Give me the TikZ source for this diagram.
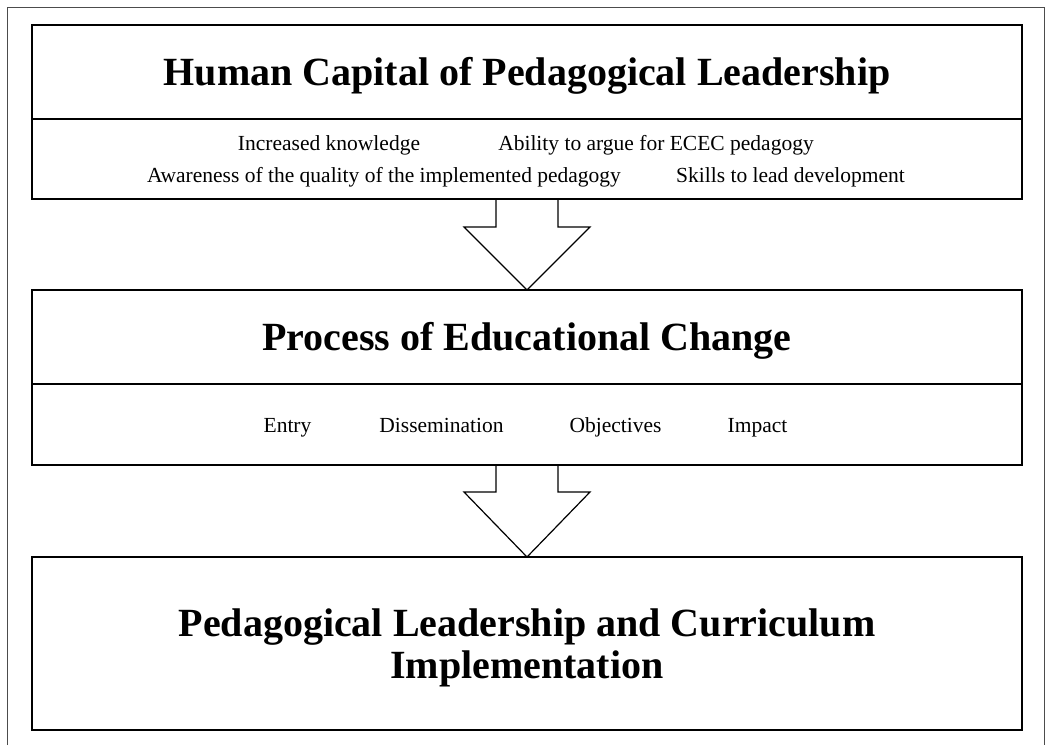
\documentclass[tikz,border=0pt]{standalone}
\usepackage{fontspec}
\setmainfont{Liberation Serif}
\usetikzlibrary{positioning, calc}
\tikzset{
    head/.style={rectangle, draw, line width=1.2pt, outer sep=0pt, minimum width=990pt, align=center,
        font=\fontsize{40}{42}\selectfont\bfseries},
    band/.style={rectangle, draw, line width=1.2pt, outer sep=0pt, minimum width=990pt},
    item/.style={font=\fontsize{21.5}{26}\selectfont, inner sep=0pt, anchor=base},
    bigarrow/.style={line width=1.2pt, line join=miter},
    frame/.style={draw=black!70, line width=0.9pt}
}

\begin{document}
\begin{tikzpicture}[x=1pt, y=-1pt]

    \useasboundingbox (0,0) rectangle (1045,745);
    \draw [frame] (7,745) -- (7,7) -- (1044,7) -- (1044,745);

    % Boxes
    \node (hc) [head, minimum height=94pt, text height=26pt, text depth=0pt] at (527,72) {Human Capital of Pedagogical Leadership};
    \node (hcitems) [band, minimum height=80pt, below=0pt of hc] {};
    \node (pec) [head, minimum height=94pt, text height=26pt, text depth=0pt] at (527,337) {Process of Educational Change};
    \node (pecitems) [band, minimum height=81pt, below=0pt of pec] {};
    \node (impl) [head, minimum height=173pt, text height=26pt, text depth=41pt] at (527,643.5) {\begin{tabular}[t]{@{}c@{}}Pedagogical Leadership and Curriculum\\Implementation\end{tabular}};

    % Items
    \node (i1) [item] at (329,150) {Increased knowledge};
    \node (i2) [item] at (656,150) {Ability to argue for ECEC pedagogy};
    \node (i3) [item] at (384,182) {Awareness of the quality of the implemented pedagogy};
    \node (i4) [item] at (790.5,182) {Skills to lead development};

    \node (e1) [item] at (287.5,432) {Entry};
    \node (e2) [item] at (441.5,432) {Dissemination};
    \node (e3) [item] at (615.5,432) {Objectives};
    \node (e4) [item] at (757.5,432) {Impact};

    % Arrows
    \draw [bigarrow] (hcitems.south) ++(-31,0) -- ++(0,28) -- ++(-32,0) -- (pec.north) -- ++(63,-63) -- ++(-32,0) -- ++(0,-28);
    \draw [bigarrow] (pecitems.south) ++(-31,0) -- ++(0,27) -- ++(-32,0) -- (impl.north) -- ++(63,-65) -- ++(-32,0) -- ++(0,-27);

\end{tikzpicture}
\end{document}
